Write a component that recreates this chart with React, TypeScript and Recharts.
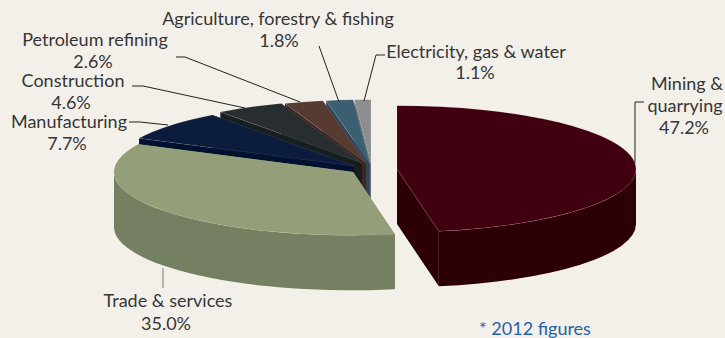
import { Pie, PieChart } from "recharts";

// back-to-front, so later wedges paint over earlier ones
const sliceNames = [
  "Electricity, gas & water",
  "Agriculture, forestry & fishing",
  "Petroleum refining",
  "Construction",
  "Manufacturing",
  "Trade & services",
  "Mining & quarrying",
];
const sliceShares = [1.1, 1.8, 2.6, 4.6, 7.7, 35.0, 47.2];

const topColors = ["#8c8d8f", "#3b5f72", "#573a32", "#282e30", "#0c1c3c", "#949e78", "#40000f"];
const wallColors = ["#6f7072", "#2d4858", "#40261f", "#161e20", "#00102f", "#757f61", "#2c0006"];

// how far each wedge is pulled out of the pie
const explode = [
  [-1, 0],
  [-2.5, 0],
  [-6, 0],
  [-10, 0],
  [-18, 3],
  [-19, 9],
  [25, 6],
];

const tableData = sliceNames.map((name, i) => ({ name, value: sliceShares[i], slot: i }));

const SQUASH = 0.265;
const DEPTH = 55;
const INK = "#363636";
const LABEL_FONT = "Lato, sans-serif";
const LABEL_SIZE = 18;

// text rows (centre x, baseline y) and leader polyline per wedge
const labelRows = [
  { rows: [["Electricity, gas & water", 476, 58], ["", 475, 79]], leader: "385,55 376,55 364,101" },
  { rows: [["Agriculture, forestry & fishing", 278, 25], ["", 279, 47]], leader: "319,46 339,102" },
  { rows: [["Petroleum refining", 95, 46], ["", 93, 68]], leader: "176,57 185,57 300,102" },
  { rows: [["Construction", 73, 87], ["", 71, 109]], leader: "132,86 143,86 245,108" },
  { rows: [["Manufacturing", 69, 128], ["", 67, 150]], leader: "129,122 140,122 168,125" },
  { rows: [["Trade & services", 168, 307], ["", 166, 330]], leader: "163,268 163,288", leaderColor: "#777" },
  { rows: [["Mining &", 687, 90], ["quarrying", 685, 112], ["", 684, 134]], leader: "644,102 635,102 635,163" },
];

const rim = (cx: number, cy: number, rx: number, deg: number, drop = 0) => {
  const rad = (deg * Math.PI) / 180;
  return `${cx + rx * Math.cos(rad)} ${cy - rx * SQUASH * Math.sin(rad) + drop}`;
};

// one extruded wedge: radial walls, then the front rim, then the top face
function Wedge(props: any) {
  const { cx, cy, outerRadius: rx, startAngle, endAngle, payload } = props;
  const slot = payload.slot;
  const [dx, dy] = explode[slot];
  const x = cx + dx;
  const y = cy + dy;
  const ry = rx * SQUASH;
  const big = Math.abs(endAngle - startAngle) > 180 ? 1 : 0;

  const wallFor = (deg: number) =>
    `M${x} ${y}L${rim(x, y, rx, deg)}L${rim(x, y, rx, deg, DEPTH)}L${x} ${y + DEPTH}Z`;

  const frontFrom = Math.max(startAngle, 180);
  const frontTo = Math.min(endAngle, 360);
  const front =
    frontFrom < frontTo
      ? `M${rim(x, y, rx, frontFrom)}A${rx} ${ry} 0 0 0 ${rim(x, y, rx, frontTo)}` +
        `L${rim(x, y, rx, frontTo, DEPTH)}A${rx} ${ry} 0 0 1 ${rim(x, y, rx, frontFrom, DEPTH)}Z`
      : null;

  return (
    <g>
      <path d={wallFor(startAngle)} fill={wallColors[slot]} />
      <path d={wallFor(endAngle)} fill={wallColors[slot]} />
      {front && <path d={front} fill={wallColors[slot]} />}
      <path
        d={`M${x} ${y}L${rim(x, y, rx, startAngle)}A${rx} ${ry} 0 ${big} 0 ${rim(x, y, rx, endAngle)}Z`}
        fill={topColors[slot]}
        stroke="#ffffff"
        strokeOpacity={0.2}
        strokeWidth={0.5}
      />
    </g>
  );
}

function SliceLabel(props: any) {
  const slot = props.payload?.slot ?? props.slot;
  const spec = labelRows[slot];
  return (
    <g>
      <polyline points={spec.leader} fill="none" stroke={spec.leaderColor ?? "#222"} strokeWidth={1} />
      {spec.rows.map(([text, x, y], i) => (
        <text
          key={i}
          x={x as number}
          y={y as number}
          textAnchor="middle"
          fontFamily={LABEL_FONT}
          fontSize={LABEL_SIZE}
          fill={INK}
        >
          {text || `${sliceShares[slot].toFixed(1)}%`}
        </text>
      ))}
    </g>
  );
}

export default function App() {
  return (
    <div style={{ position: "fixed", left: 0, top: 0, width: 725, height: 338, background: "#f3f0ea", overflow: "hidden" }}>
      <PieChart width={725} height={338} margin={{ top: 0, right: 0, bottom: 0, left: 0 }}>
        <Pie
          data={tableData}
          dataKey="value"
          nameKey="name"
          cx={372}
          cy={163}
          innerRadius={0}
          outerRadius={239}
          startAngle={90}
          endAngle={450}
          stroke="none"
          isAnimationActive={false}
          shape={Wedge}
          label={SliceLabel}
          labelLine={false}
        />
        <text x={535} y={335} textAnchor="middle" fontFamily={LABEL_FONT} fontSize={LABEL_SIZE} fill="#1f62a8">
          * 2012 figures
        </text>
      </PieChart>
    </div>
  );
}
